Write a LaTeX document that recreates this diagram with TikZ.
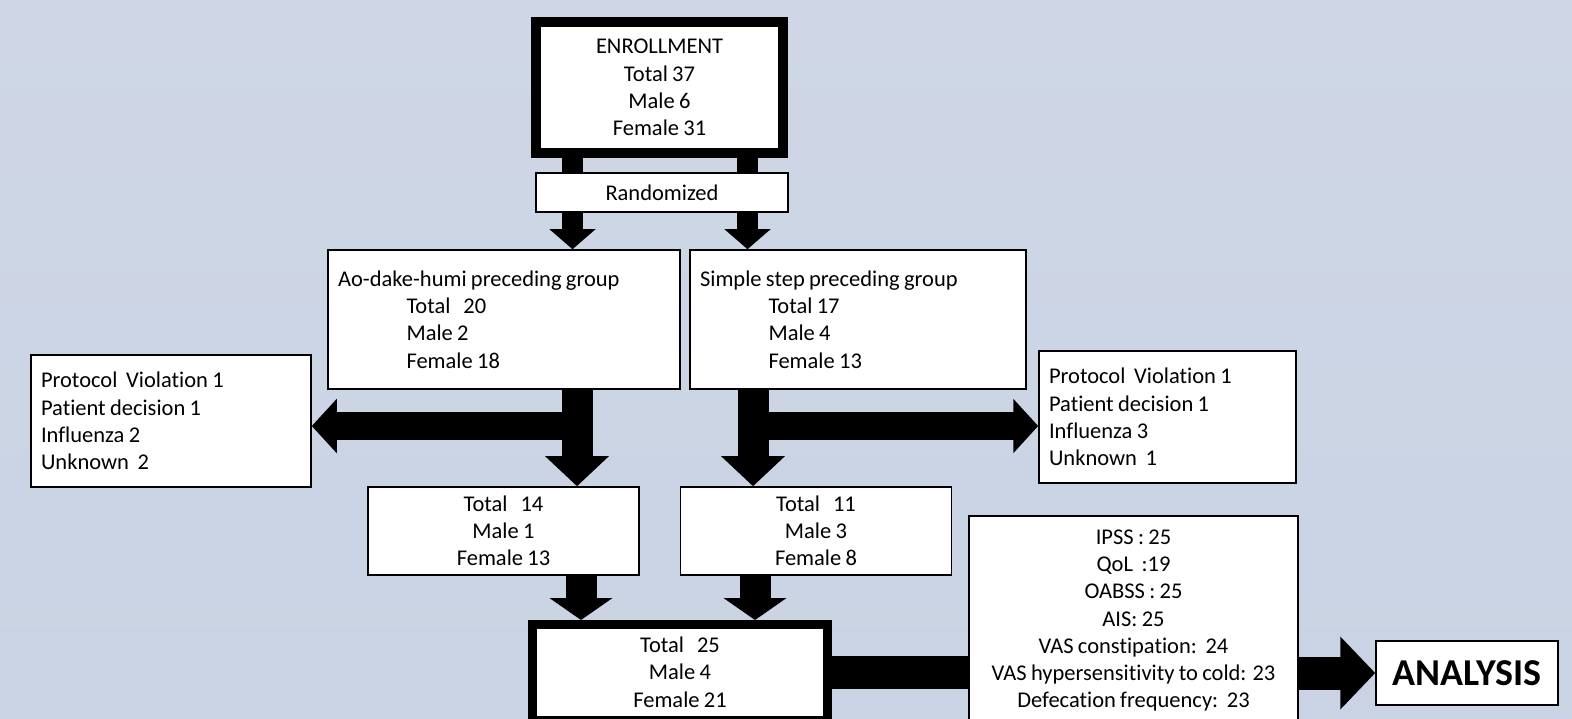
\documentclass[tikz,border=0pt]{standalone}
\usepackage{fontspec}
\setmainfont[Ligatures=NoCommon, WordSpace=0.85]{Carlito}
\usetikzlibrary{arrows.meta}
\definecolor{bgtop}{RGB}{207,215,230}
\definecolor{bgbot}{RGB}{201,211,227}

\begin{document}
\begin{tikzpicture}[x=0.02cm, y=-0.02cm]
	\tikzset{
		box/.style={draw, fill=white, line width=0.9pt, inner sep=0pt, align=center,
			font=\fontsize{12.8}{15.5}\selectfont},
		leftbox/.style={box, align=left, inner xsep=0.2cm,
			execute at begin node={\spaceskip=0pt\xspaceskip=0pt\relax}},
		heavybox/.style={box, line width=#1},
		stub/.style={line width=0.42cm},
		downsmall/.style={line width=0.42cm, -{Triangle[length=0.4cm,width=0.9cm]}},
		downbig/.style={line width=0.62cm, -{Triangle[length=#1,width=1.24cm]}},
		sidearrow/.style={line width=0.56cm, -{Triangle[length=0.5cm,width=1.06cm]}},
		joinbar/.style={line width=0.66cm},
		toanalysis/.style={line width=0.66cm, -{Triangle[length=0.7cm,width=1.42cm]}},
	}
	\def\ind{\hspace*{1.37cm}}
	\useasboundingbox (0,0) rectangle (1572,718);
	\fill[top color=bgtop, bottom color=bgbot] (0,0) rectangle (1572,718);

	% Boxes first.
	\node[heavybox=0.2cm, minimum width=4.94cm, minimum height=2.62cm] (enroll) at (659.5,87.5)
		{ENROLLMENT\\Total 37\\Male 6\\Female 31};
	\node[box, minimum width=5.04cm, minimum height=0.78cm] (rand) at (662,192.5) {Randomized};
	\node[leftbox, text width=6.64cm, minimum height=2.78cm] (ao) at (504,319.5)
		{Ao-dake-humi preceding group\\\ind Total~~~20\\\ind Male 2\\\ind Female 18};
	\node[leftbox, text width=6.32cm, minimum height=2.78cm] (simple) at (858,319.5)
		{Simple step preceding group\\\ind Total 17\\\ind Male 4\\\ind Female 13};
	\node[leftbox, text width=5.2cm, minimum height=2.64cm] (exL) at (171,421)
		{Protocol~~Violation 1\\Patient decision 1\\Influenza 2\\Unknown~~2};
	\node[leftbox, text width=4.74cm, minimum height=2.64cm] (exR) at (1167.5,417)
		{Protocol~~Violation 1\\Patient decision 1\\Influenza 3\\Unknown~~1};
	\node[box, minimum width=5.42cm, minimum height=1.76cm] (t14) at (503.5,531)
		{Total~~~14\\Male 1\\Female 13};
	\node[box, minimum width=5.42cm, minimum height=1.76cm] (t11) at (816,531)
		{Total~~~11\\Male 3\\Female 8};
	\node[heavybox=0.18cm, minimum width=5.9cm, minimum height=1.91cm] (final) at (680,672.25)
		{Total~~~25\\Male 4\\Female 21};
	\node[box, minimum width=6.58cm, minimum height=4.18cm] (stats) at (1133.5,620.5)
		{IPSS : 25\\QoL~~:19\\OABSS : 25\\AIS: 25\\VAS constipation:~~24\\VAS hypersensitivity to cold: 23\\Defecation frequency:~~23};
	\node[box, font=\fontsize{21.6}{26}\selectfont\bfseries, minimum width=3.64cm, minimum height=1.28cm] (analysis) at (1467,673) {ANALYSIS};

	% Columns of the block arrows.
	\coordinate (colA) at (572.5,0);
	\coordinate (colB) at (747.5,0);
	\coordinate (colC) at (577,0);
	\coordinate (colD) at (753,0);
	\coordinate (colE) at (581,0);
	\coordinate (colF) at (755,0);
	\coordinate (brL) at (577,426);
	\coordinate (brR) at (753,426);

	% Block arrows on top.
	\draw[stub] (enroll.south -| colA) -- (rand.north -| colA);
	\draw[stub] (enroll.south -| colB) -- (rand.north -| colB);
	\draw[downsmall] (rand.south -| colA) -- (ao.north -| colA);
	\draw[downsmall] (rand.south -| colB) -- (simple.north -| colB);
	\draw[downbig=0.6cm] (ao.south -| colC) -- (t14.north -| colC);
	\draw[downbig=0.6cm] (simple.south -| colD) -- (t11.north -| colD);
	\draw[sidearrow] (brL) -- (brL -| exL.east);
	\draw[sidearrow] (brR) -- (brR -| exR.west);
	\draw[downbig=0.44cm] (t14.south -| colE) -- (final.north -| colE);
	\draw[downbig=0.44cm] (t11.south -| colF) -- (final.north -| colF);
	\draw[joinbar] (final.east) -- (final.east -| stats.west);
	\draw[toanalysis] (stats.east |- analysis.west) -- (analysis.west);
\end{tikzpicture}
\end{document}
